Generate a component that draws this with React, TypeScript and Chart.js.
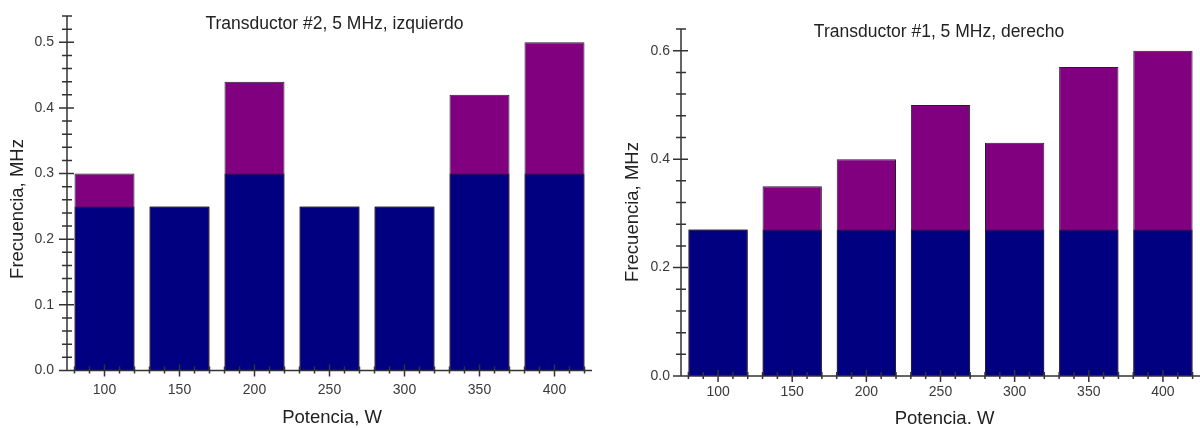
import React, { useEffect, useRef } from "react";
import { Chart, registerables } from "chart.js";

Chart.register(...registerables);

// ---------- data ----------
const powers = [100, 150, 200, 250, 300, 350, 400];

const leftBase = [0.25, 0.25, 0.3, 0.25, 0.25, 0.3, 0.3];
const leftTotal = [0.3, 0.25, 0.44, 0.25, 0.25, 0.42, 0.5];
const leftYTicks = [0, 0.1, 0.2, 0.3, 0.4, 0.5];

const rightBase = [0.27, 0.27, 0.27, 0.27, 0.27, 0.27, 0.27];
const rightTotal = [0.27, 0.35, 0.4, 0.5, 0.43, 0.57, 0.6];
const rightYTicks = [0, 0.2, 0.4, 0.6];

const xMinorTicks = [80, 90, 110, 120, 130, 140, 160, 170, 180, 190, 210, 220, 230, 240, 260, 270, 280, 290, 310, 320, 330, 340, 360, 370, 380, 390, 410, 420];

// ---------- style ----------
const FONT = "'Liberation Sans', Arial, Helvetica, sans-serif";
const NAVY = "#000080";
const PURPLE = "#800080";
const EDGE = "#222222";
const AXIS = "#333333";
const TICK_TEXT = "#3a3a3a";
const TITLE_TEXT = "#222222";

type Panel = {
  title: string;
  xTitle: string;
  yTitle: string;
  base: number[];
  total: number[];
  yTicks: number[];
  yMax: number;
  yMinorStep: number;
  padTop: number;
  padRight: number;
  yAxisWidth: number;
  xAxisHeight: number;
  titlePos: [number, number];
  xTitlePos: [number, number];
  yTitlePos: [number, number];
  yLabelPad: number;
  xLabelPad: number;
};

const panels: Panel[] = [
  {
    title: "Transductor #2, 5 MHz, izquierdo",
    xTitle: "Potencia, W",
    yTitle: "Frecuencia, MHz",
    base: leftBase,
    total: leftTotal,
    yTicks: leftYTicks,
    yMax: 0.54,
    yMinorStep: 0.02,
    padTop: 16,
    padRight: 8,
    yAxisWidth: 67,
    xAxisHeight: 57.5,
    titlePos: [334.5, 28.5],
    xTitlePos: [332, 423],
    yTitlePos: [23, 209],
    yLabelPad: 13,
    xLabelPad: 11,
  },
  {
    title: "Transductor #1, 5 MHz, derecho",
    xTitle: "Potencia. W",
    yTitle: "Frecuencia, MHz",
    base: rightBase,
    total: rightTotal,
    yTicks: rightYTicks,
    yMax: 0.64,
    yMinorStep: 0.04,
    padTop: 29,
    padRight: 0,
    yAxisWidth: 81,
    xAxisHeight: 52,
    titlePos: [339, 36.7],
    xTitlePos: [344.5, 424],
    yTitlePos: [38, 212],
    yLabelPad: 11,
    xLabelPad: 8,
  },
];

function decorPlugin(P: Panel) {
  return {
    id: "decor",
    afterDatasetsDraw(chart: any) {
      const ctx = chart.ctx as CanvasRenderingContext2D;
      const { left, right, top, bottom } = chart.chartArea;
      const xs = chart.scales.x;
      const ys = chart.scales.y;
      ctx.save();
      ctx.strokeStyle = AXIS;
      ctx.lineWidth = 1.5;
      ctx.beginPath();
      // axes
      ctx.moveTo(left, top);
      ctx.lineTo(left, bottom);
      ctx.moveTo(left, bottom);
      ctx.lineTo(right, bottom);
      // y ticks
      const n = Math.round(P.yMax / P.yMinorStep);
      for (let k = 0; k <= n; k++) {
        const v = k * P.yMinorStep;
        const py = ys.getPixelForValue(v);
        const major = P.yTicks.some((t) => Math.abs(t - v) < 1e-6);
        const l = major ? 8 : 5;
        const r = major ? 7 : 5;
        ctx.moveTo(left - l, py);
        ctx.lineTo(left + r, py);
      }
      // x ticks
      for (const v of powers) {
        const px = xs.getPixelForValue(v);
        ctx.moveTo(px, bottom - 6);
        ctx.lineTo(px, bottom + 6);
      }
      for (const v of xMinorTicks) {
        const px = xs.getPixelForValue(v);
        ctx.moveTo(px, bottom - 4);
        ctx.lineTo(px, bottom + 3);
      }
      ctx.stroke();
      ctx.restore();
    },
    afterDraw(chart: any) {
      const ctx = chart.ctx as CanvasRenderingContext2D;
      ctx.save();
      ctx.fillStyle = TITLE_TEXT;
      ctx.textAlign = "center";
      ctx.textBaseline = "alphabetic";
      ctx.font = `17.5px ${FONT}`;
      ctx.fillText(P.title, P.titlePos[0], P.titlePos[1]);
      ctx.font = `18.5px ${FONT}`;
      ctx.fillText(P.xTitle, P.xTitlePos[0], P.xTitlePos[1]);
      ctx.translate(P.yTitlePos[0], P.yTitlePos[1]);
      ctx.rotate(-Math.PI / 2);
      ctx.fillText(P.yTitle, 0, 0);
      ctx.restore();
    },
  };
}

function zeroPad(s: any) {
  s.paddingTop = 0;
  s.paddingBottom = 0;
  s.paddingLeft = 0;
  s.paddingRight = 0;
}

function makeChart(canvas: HTMLCanvasElement, P: Panel) {
  return new Chart(canvas, {
    type: "bar",
    data: {
      datasets: [
        {
          label: "base",
          data: powers.map((x, i) => ({ x, y: P.base[i] })),
          backgroundColor: NAVY,
          borderColor: EDGE,
          borderWidth: 1,
          order: 0,
        },
        {
          label: "total",
          data: powers.map((x, i) => ({ x, y: P.total[i] })),
          backgroundColor: PURPLE,
          borderColor: EDGE,
          borderWidth: 1,
          order: 1,
        },
      ] as any,
    },
    options: {
      animation: false,
      responsive: false,
      maintainAspectRatio: false,
      devicePixelRatio: 1,
      events: [],
      datasets: {
        bar: {
          grouped: false,
          barPercentage: 0.8,
          categoryPercentage: 1.0,
        },
      },
      layout: {
        padding: { top: P.padTop, right: P.padRight, left: 0, bottom: 0 },
      },
      plugins: {
        legend: { display: false },
        tooltip: { enabled: false },
        title: { display: false },
      },
      scales: {
        x: {
          type: "linear",
          min: 75,
          max: 425,
          offset: false,
          grid: { display: false, drawTicks: false },
          border: { display: false },
          afterBuildTicks: (s: any) => {
            s.ticks = powers.map((v) => ({ value: v }));
          },
          afterFit: (s: any) => {
            s.height = P.xAxisHeight;
            zeroPad(s);
          },
          ticks: {
            autoSkip: false,
            maxRotation: 0,
            padding: P.xLabelPad,
            color: TICK_TEXT,
            font: { family: FONT, size: 14 },
            callback: (v: any) => String(v),
          },
        },
        y: {
          type: "linear",
          min: 0,
          max: P.yMax,
          grid: { display: false, drawTicks: false },
          border: { display: false },
          afterBuildTicks: (s: any) => {
            s.ticks = P.yTicks.map((v) => ({ value: v }));
          },
          afterFit: (s: any) => {
            s.width = P.yAxisWidth;
            zeroPad(s);
          },
          ticks: {
            padding: P.yLabelPad,
            color: TICK_TEXT,
            font: { family: FONT, size: 14 },
            callback: (v: any) => Number(v).toFixed(1),
          },
        },
      },
    } as any,
    plugins: [decorPlugin(P)],
  });
}

export default function App() {
  const leftRef = useRef<HTMLCanvasElement>(null);
  const rightRef = useRef<HTMLCanvasElement>(null);

  useEffect(() => {
    const charts: Chart[] = [];
    if (leftRef.current) charts.push(makeChart(leftRef.current, panels[0]));
    if (rightRef.current) charts.push(makeChart(rightRef.current, panels[1]));
    return () => charts.forEach((c) => c.destroy());
  }, []);

  return (
    <div
      style={{
        position: "fixed",
        left: 0,
        top: 0,
        width: 1200,
        height: 428,
        background: "#ffffff",
        overflow: "hidden",
      }}
    >
      <canvas
        ref={leftRef}
        width={600}
        height={428}
        style={{ position: "absolute", left: 0, top: 0, width: 600, height: 428 }}
      />
      <canvas
        ref={rightRef}
        width={600}
        height={428}
        style={{ position: "absolute", left: 600, top: 0, width: 600, height: 428 }}
      />
    </div>
  );
}
